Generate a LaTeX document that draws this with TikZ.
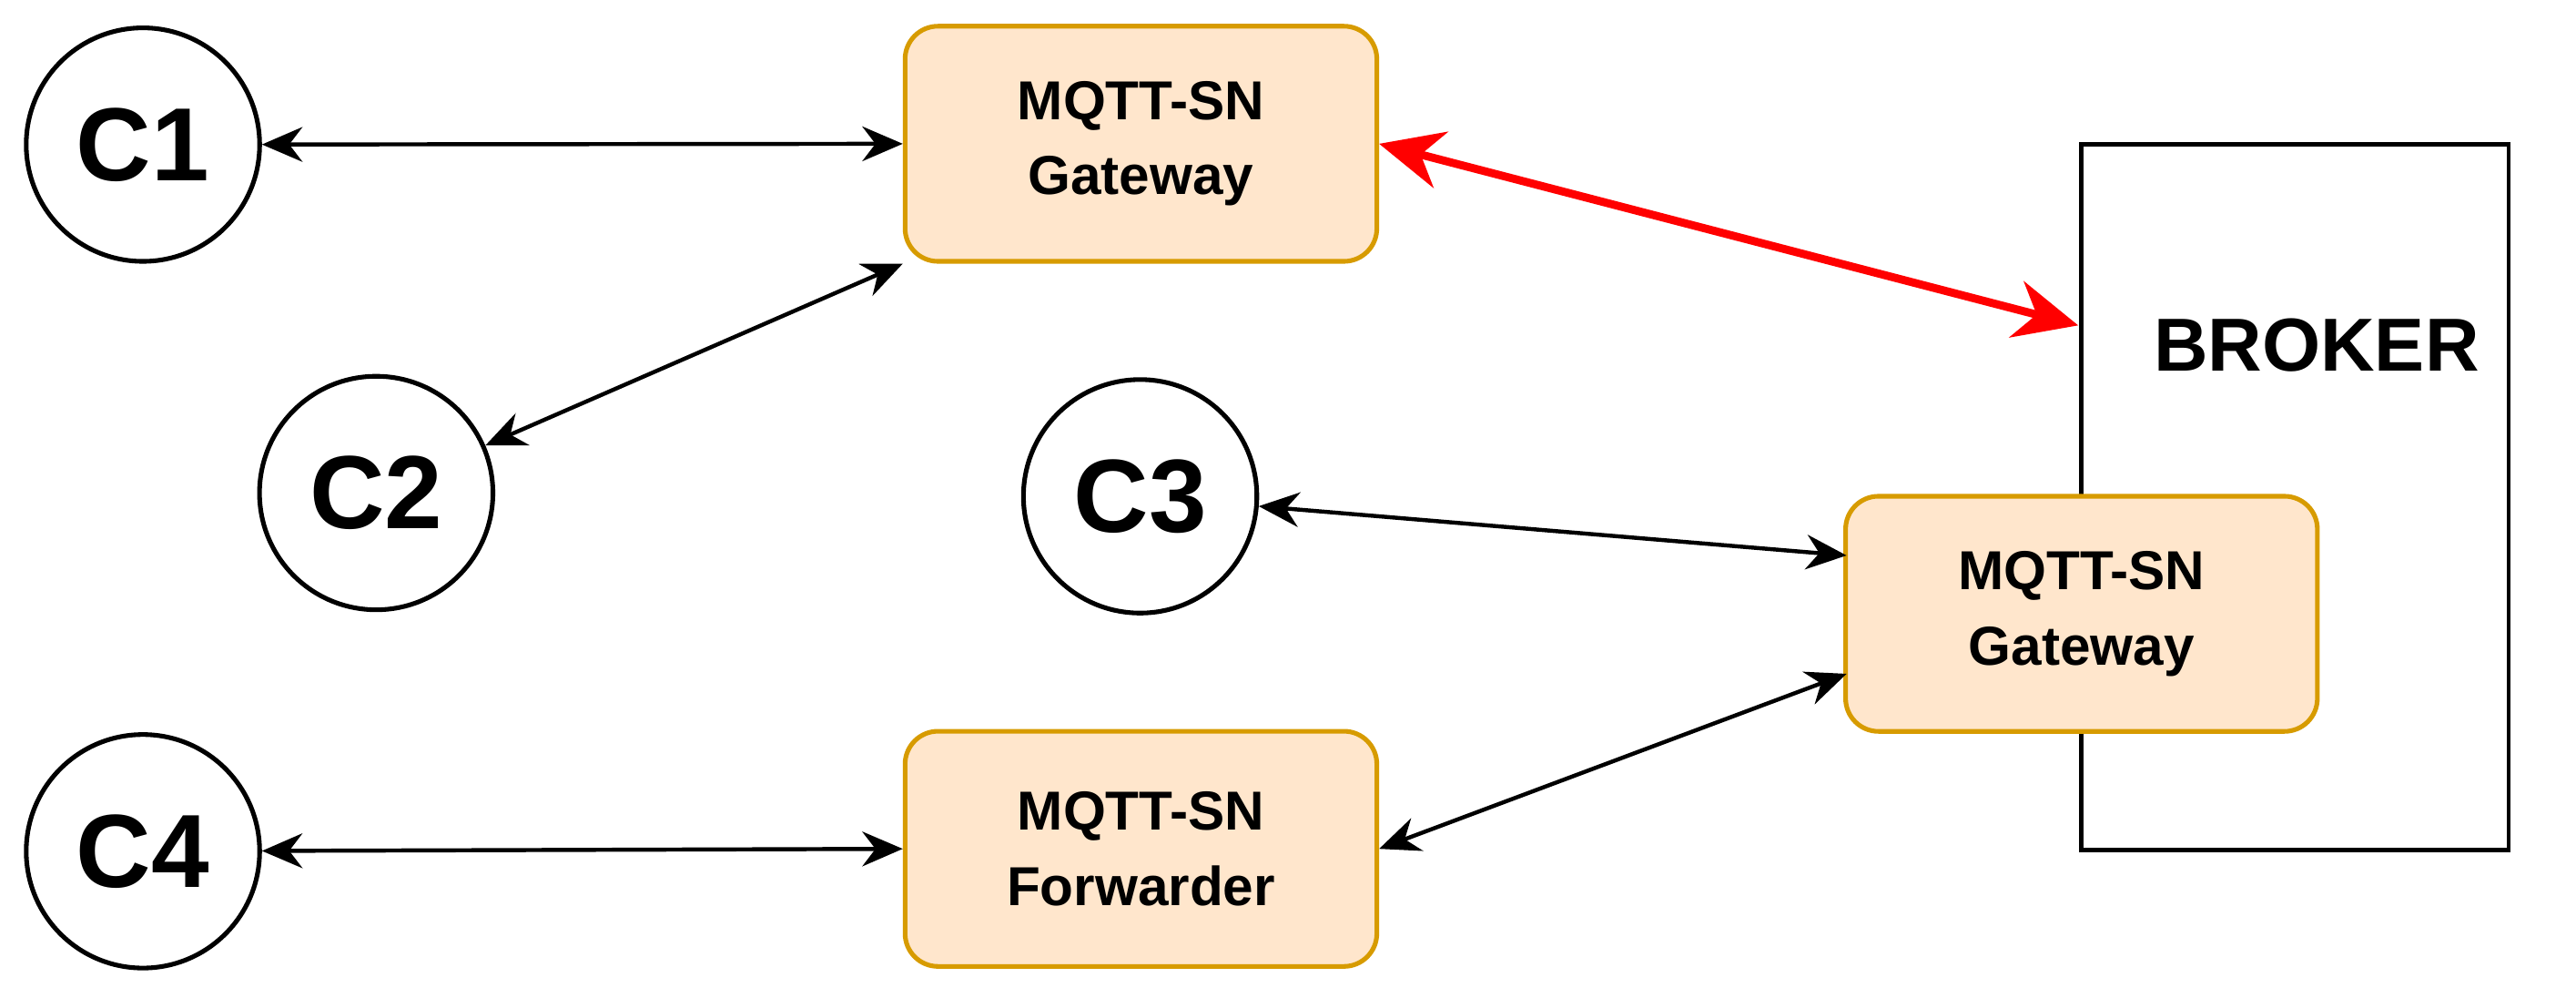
\documentclass[tikz,border=0pt]{standalone}
\usepackage{fontspec}
\setmainfont{Liberation Sans}
\usetikzlibrary{arrows.meta}
\definecolor{boxfill}{HTML}{FFE6CC}
\definecolor{boxdraw}{HTML}{D79B00}
\begin{document}
\begin{tikzpicture}[x=0.01cm,y=-0.01cm,
  cl/.style={circle,draw,line width=0.8pt,minimum size=1.42cm,inner sep=0pt,font=\fontsize{18}{20}\selectfont\bfseries},
  bx/.style={rounded corners=0.2cm,draw=boxdraw,fill=boxfill,line width=0.8pt,minimum width=2.87cm,minimum height=1.43cm,align=center,font=\fontsize{9.5}{13}\selectfont\bfseries},
  ar/.style={line width=0.7pt,{Stealth[length=7pt,width=6pt]}-{Stealth[length=7pt,width=6pt]}}]
\useasboundingbox (0,0) rectangle (1568,607);
\node[draw,line width=0.7pt,minimum width=2.6cm,minimum height=4.29cm,inner sep=0pt] (br) at (1397,302.5) {};
\node[font=\fontsize{13}{15}\selectfont\bfseries] (bt) at (1410,210) {BROKER};
\node[cl] (c1) at (87,88) {C1};
\node[cl] (c2) at (229,300) {C2};
\node[cl] (c3) at (694,302) {C3};
\node[cl] (c4) at (87,518) {C4};
\node[bx] (g1) at (694.5,87.5) {MQTT-SN\\Gateway};
\node[bx] (g2) at (1267,373.5) {MQTT-SN\\Gateway};
\node[bx] (fw) at (694.5,516.5) {MQTT-SN\\Forwarder};
\coordinate (bl) at (1265,198);
\draw[ar] (c1) -- (g1.west);
\draw[ar] (c2) -- (g1.south west);
\draw[ar,red,line width=1.4pt,{Stealth[length=11pt,width=10pt]}-{Stealth[length=11pt,width=10pt]}] (g1.east) -- (bl);
\draw[ar] (c3) -- (1124,338);
\draw[ar] (1124,410) -- (fw.east);
\draw[ar] (c4) -- (fw.west);
\end{tikzpicture}
\end{document}
